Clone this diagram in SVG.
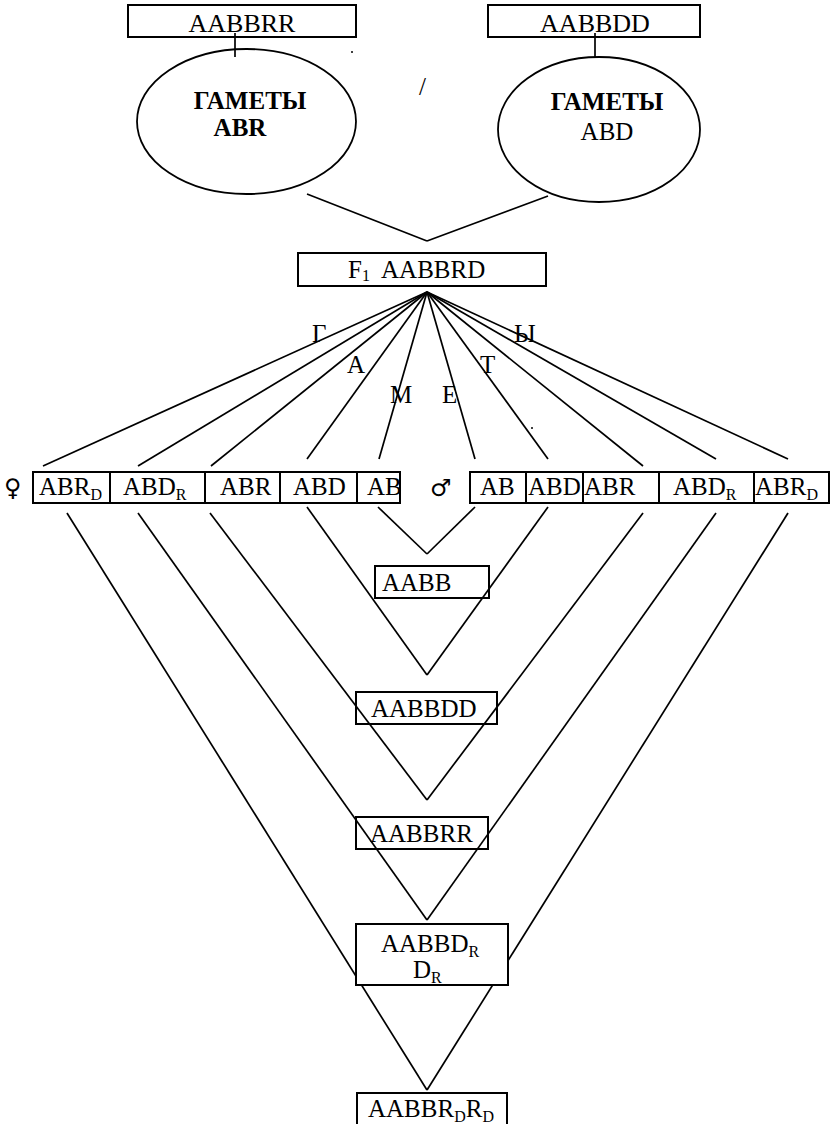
<svg xmlns="http://www.w3.org/2000/svg" width="832" height="1124" viewBox="0 0 832 1124">
<style>
.b{fill:#fff;stroke:#000;stroke-width:2}
.n{fill:none;stroke:#000;stroke-width:2}
.e{fill:none;stroke:#000;stroke-width:1.8}
.t{font-size:25px}
.bd{font-size:25px;font-weight:bold}
.s{font-size:16px}
#connectors line{stroke:#000;stroke-width:1.7}
</style>
<rect width="832" height="1124" fill="#fff"/>
<g id="connectors">
<line x1="235" y1="33" x2="235" y2="57"/>
<line x1="595" y1="33" x2="595" y2="57"/>
<line x1="307" y1="194" x2="427" y2="241"/>
<line x1="548" y1="196" x2="427" y2="241"/>
<line x1="427" y1="292" x2="43" y2="466"/>
<line x1="427" y1="292" x2="138" y2="466"/>
<line x1="427" y1="292" x2="211" y2="466"/>
<line x1="427" y1="292" x2="307" y2="459"/>
<line x1="427" y1="292" x2="379" y2="459"/>
<line x1="427" y1="292" x2="475" y2="459"/>
<line x1="427" y1="292" x2="548" y2="459"/>
<line x1="427" y1="292" x2="643" y2="466"/>
<line x1="427" y1="292" x2="716" y2="459"/>
<line x1="427" y1="292" x2="788" y2="459"/>
<line x1="378" y1="507" x2="427" y2="554"/>
<line x1="475" y1="507" x2="427" y2="554"/>
<line x1="307" y1="507" x2="427" y2="675"/>
<line x1="548" y1="507" x2="427" y2="675"/>
<line x1="210" y1="513" x2="427" y2="800"/>
<line x1="643" y1="513" x2="427" y2="800"/>
<line x1="138" y1="513" x2="427" y2="920"/>
<line x1="716" y1="513" x2="427" y2="920"/>
<line x1="67" y1="513" x2="427" y2="1090"/>
<line x1="788" y1="513" x2="427" y2="1090"/>
</g>
<g font-family="Liberation Serif, Times New Roman, serif" fill="#000">
<g id="p1"><rect class="n" x="128" y="5" width="228" height="32"/><text class="t" x="242" y="32" text-anchor="middle" style="font-size:26px">AABBRR</text></g>
<g id="p2"><rect class="n" x="488" y="5" width="212" height="32"/><text class="t" x="595" y="32" text-anchor="middle" style="font-size:26px">AABBDD</text></g>
<g id="g1"><ellipse class="e" cx="246.5" cy="121.5" rx="109.5" ry="72.5"/><text class="bd" x="250" y="109" text-anchor="middle">ГАМЕТЫ</text><text class="bd" x="240" y="136" text-anchor="middle">ABR</text></g>
<g id="g2"><ellipse class="e" cx="599" cy="129.5" rx="101" ry="72.5"/><text class="bd" x="607" y="110" text-anchor="middle">ГАМЕТЫ</text><text class="t" x="607" y="140" text-anchor="middle">ABD</text></g>
<circle cx="352" cy="52" r="1" fill="#000"/>
<text class="t" x="419" y="95">/</text>
<g id="f1"><rect class="n" x="298" y="253" width="248" height="33"/><text class="t" x="348" y="278">F<tspan class="s" dy="3">1</tspan><tspan dy="-3" xml:space="preserve">  AABBRD</tspan></text></g>
<g id="labels">
<text class="t" x="312" y="342">Г</text>
<text class="t" x="347" y="373">А</text>
<text class="t" x="390" y="403">М</text>
<text class="t" x="442" y="403">Е</text>
<text class="t" x="480" y="373">Т</text>
<text class="t" x="514" y="342">Ы</text>
<circle cx="532" cy="428" r="1" fill="#000"/>
</g>
<text x="4" y="496" font-family="DejaVu Sans, sans-serif" font-size="24">♀</text>
<text x="430" y="496" font-family="DejaVu Sans, sans-serif" font-size="24">♂</text>
<g id="fem">
<rect class="b" x="33" y="472" width="77" height="31"/><text class="t" x="39" y="495">ABR<tspan class="s" dy="5">D</tspan></text>
<rect class="b" x="110" y="472" width="95" height="31"/><text class="t" x="123" y="495">ABD<tspan class="s" dy="5">R</tspan></text>
<rect class="b" x="205" y="472" width="75" height="31"/><text class="t" x="220" y="495">ABR</text>
<rect class="b" x="280" y="472" width="77" height="31"/><text class="t" x="293" y="495">ABD</text>
<rect class="b" x="357" y="472" width="43" height="31"/><text class="t" x="367" y="495">AB</text>
</g>
<g id="male">
<rect class="b" x="470" y="472" width="56" height="31"/><text class="t" x="480" y="495">AB</text>
<rect class="b" x="526" y="472" width="57" height="31"/><text class="t" x="528" y="495">ABD</text>
<rect class="b" x="583" y="472" width="76" height="31"/><text class="t" x="584" y="495">ABR</text>
<rect class="b" x="659" y="472" width="95" height="31"/><text class="t" x="673" y="495">ABD<tspan class="s" dy="5">R</tspan></text>
<rect class="b" x="754" y="472" width="75" height="31"/><text class="t" x="755" y="495">ABR<tspan class="s" dy="5">D</tspan></text>
</g>
<g id="r1"><rect class="n" x="375" y="566" width="114" height="32"/><text class="t" x="382" y="591">AABB</text></g>
<g id="r2"><rect class="n" x="356" y="692" width="141" height="32"/><text class="t" x="371" y="717">AABBDD</text></g>
<g id="r3"><rect class="n" x="356" y="817" width="132" height="32"/><text class="t" x="370" y="842">AABBRR</text></g>
<g id="r4"><rect class="b" x="356" y="924" width="152" height="61"/><text class="t" x="381" y="952">AABBD<tspan class="s" dy="5">R</tspan></text><text class="t" x="413" y="978">D<tspan class="s" dy="5">R</tspan></text></g>
<g id="r5"><rect class="b" x="357" y="1093" width="150" height="40"/><text class="t" x="368" y="1117">AABBR<tspan class="s" dy="5">D</tspan><tspan dy="-5">R</tspan><tspan class="s" dy="5">D</tspan></text></g>
</g>
</svg>
